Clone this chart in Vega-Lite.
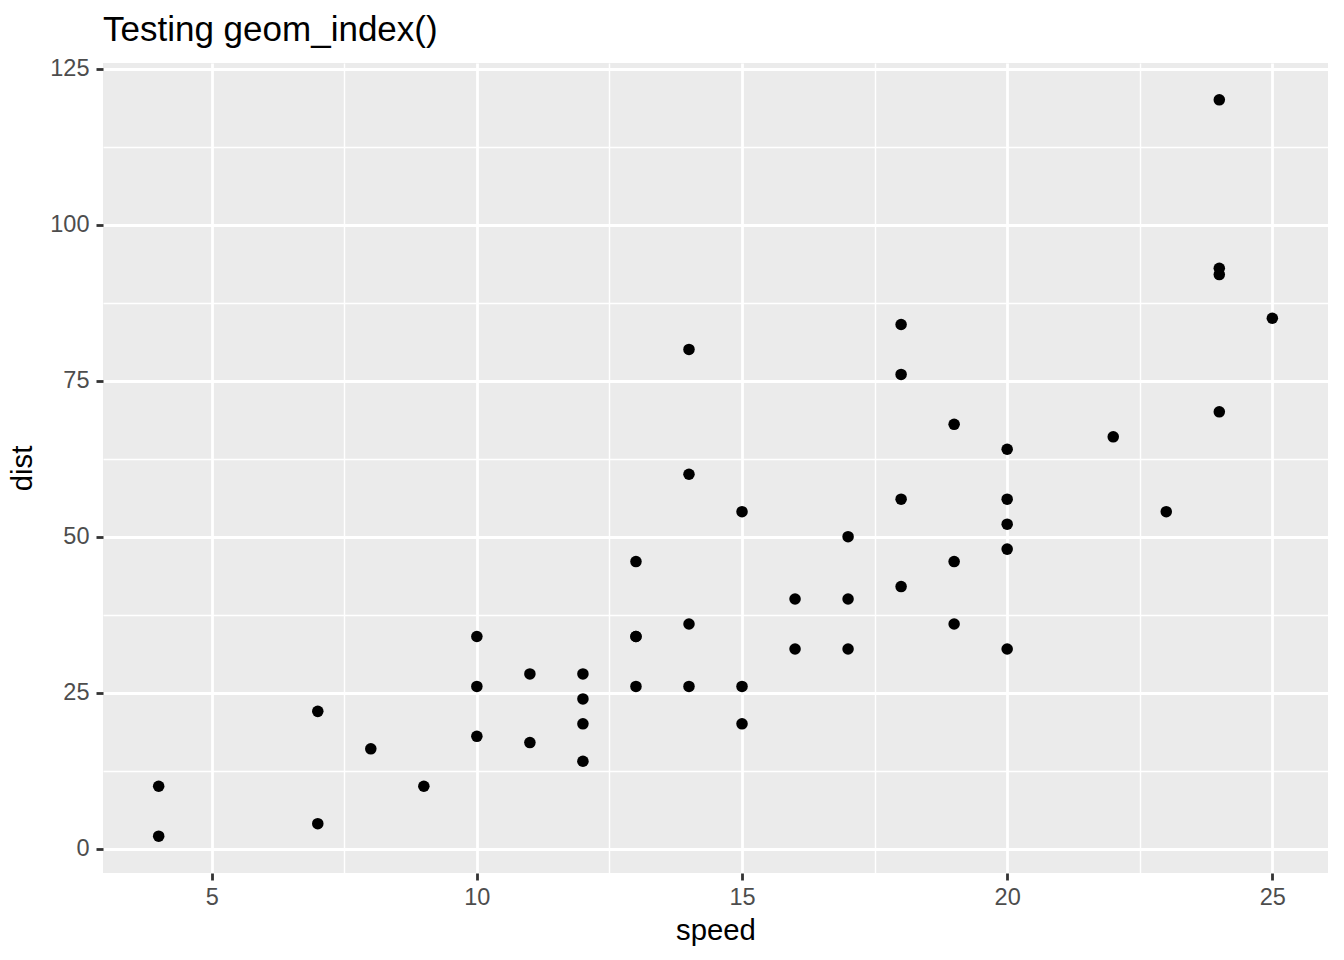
{
  "$schema": "https://vega.github.io/schema/vega-lite/v6.json",
  "width": 1225,
  "height": 810,
  "autosize": "none",
  "padding": {"left": 103, "top": 63, "right": 16, "bottom": 87},
  "background": "white",
  "title": {
    "text": "Testing geom_index()",
    "anchor": "start",
    "frame": "group",
    "font": "Liberation Sans",
    "fontSize": 35,
    "fontWeight": "normal",
    "color": "black",
    "baseline": "alphabetic",
    "offset": -19
  },
  "config": {
    "view": {"fill": "#EBEBEB", "stroke": null},
    "axis": {
      "domain": false,
      "labelFont": "Liberation Sans",
      "labelFontSize": 23.5,
      "labelColor": "#4D4D4D",
      "titleFont": "Liberation Sans",
      "titleFontSize": 29.3,
      "titleFontWeight": "normal",
      "titleColor": "black",
      "tickColor": "#333333",
      "tickSize": 7,
      "gridColor": "white"
    }
  },
  "data": {
    "values": [
      {"speed": 4, "dist": 2}, {"speed": 4, "dist": 10}, {"speed": 7, "dist": 4}, {"speed": 7, "dist": 22},
      {"speed": 8, "dist": 16}, {"speed": 9, "dist": 10}, {"speed": 10, "dist": 18}, {"speed": 10, "dist": 26},
      {"speed": 10, "dist": 34}, {"speed": 11, "dist": 17}, {"speed": 11, "dist": 28}, {"speed": 12, "dist": 14},
      {"speed": 12, "dist": 20}, {"speed": 12, "dist": 24}, {"speed": 12, "dist": 28}, {"speed": 13, "dist": 26},
      {"speed": 13, "dist": 34}, {"speed": 13, "dist": 34}, {"speed": 13, "dist": 46}, {"speed": 14, "dist": 26},
      {"speed": 14, "dist": 36}, {"speed": 14, "dist": 60}, {"speed": 14, "dist": 80}, {"speed": 15, "dist": 20},
      {"speed": 15, "dist": 26}, {"speed": 15, "dist": 54}, {"speed": 16, "dist": 32}, {"speed": 16, "dist": 40},
      {"speed": 17, "dist": 32}, {"speed": 17, "dist": 40}, {"speed": 17, "dist": 50}, {"speed": 18, "dist": 42},
      {"speed": 18, "dist": 56}, {"speed": 18, "dist": 76}, {"speed": 18, "dist": 84}, {"speed": 19, "dist": 36},
      {"speed": 19, "dist": 46}, {"speed": 19, "dist": 68}, {"speed": 20, "dist": 32}, {"speed": 20, "dist": 48},
      {"speed": 20, "dist": 52}, {"speed": 20, "dist": 56}, {"speed": 20, "dist": 64}, {"speed": 22, "dist": 66},
      {"speed": 23, "dist": 54}, {"speed": 24, "dist": 70}, {"speed": 24, "dist": 92}, {"speed": 24, "dist": 93},
      {"speed": 24, "dist": 120}, {"speed": 25, "dist": 85}
    ]
  },
  "mark": {"type": "circle", "color": "black", "opacity": 1, "size": 133},
  "encoding": {
    "x": {
      "field": "speed",
      "type": "quantitative",
      "scale": {"domain": [2.95, 26.05], "nice": false, "zero": false},
      "axis": {
        "title": "speed",
        "values": [5, 7.5, 10, 12.5, 15, 17.5, 20, 22.5, 25],
        "labelExpr": "datum.value % 5 === 0 ? datum.label : ''",
        "tickOpacity": {"condition": {"test": "datum.value % 5 !== 0", "value": 0}, "value": 1},
        "tickWidth": 2.8,
        "gridWidth": {"condition": {"test": "datum.value % 5 !== 0", "value": 1.4}, "value": 2.8},
        "labelPadding": 5,
        "titlePadding": 8
      }
    },
    "y": {
      "field": "dist",
      "type": "quantitative",
      "scale": {"domain": [-3.9, 125.9], "nice": false, "zero": false},
      "axis": {
        "title": "dist",
        "values": [0, 12.5, 25, 37.5, 50, 62.5, 75, 87.5, 100, 112.5, 125],
        "labelExpr": "datum.value % 25 === 0 ? datum.label : ''",
        "tickOpacity": {"condition": {"test": "datum.value % 25 !== 0", "value": 0}, "value": 1},
        "tickWidth": 2.8,
        "gridWidth": {"condition": {"test": "datum.value % 25 !== 0", "value": 1.4}, "value": 2.8},
        "labelPadding": 7,
        "titlePadding": 12
      }
    }
  }
}
